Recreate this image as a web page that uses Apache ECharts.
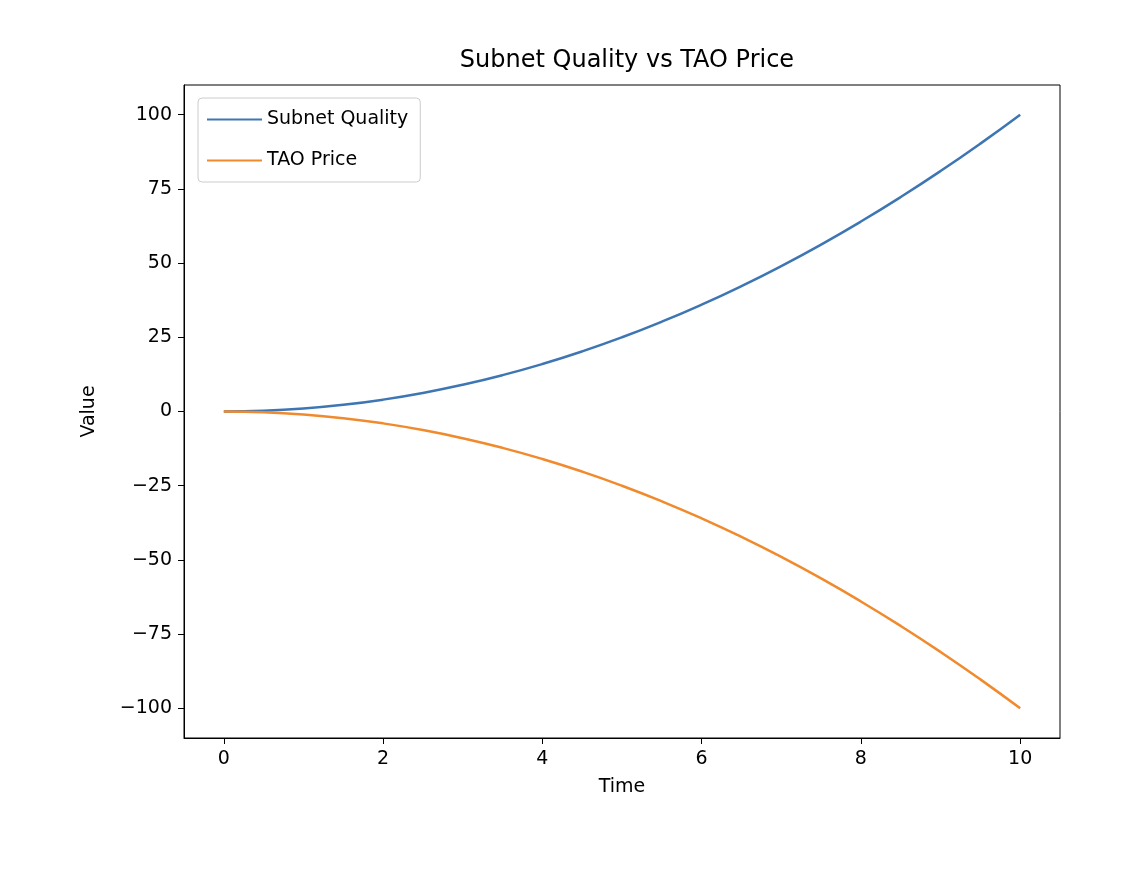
<!DOCTYPE html>
<html>
<head>
<meta charset="utf-8">
<script src="https://cdn.jsdelivr.net/npm/echarts@6/dist/echarts.min.js"></script>
<style>html,body{margin:0;padding:0;background:#fff}#main{width:1125px;height:870px}</style>
</head>
<body>
<div id="main"></div>
<script>
// values
var times = [0,0.5,1,1.5,2,2.5,3,3.5,4,4.5,5,5.5,6,6.5,7,7.5,8,8.5,9,9.5,10];
var quality = [0,0.25,1,2.25,4,6.25,9,12.25,16,20.25,25,30.25,36,42.25,49,56.25,64,72.25,81,90.25,100];
var price = [0,-0.25,-1,-2.25,-4,-6.25,-9,-12.25,-16,-20.25,-25,-30.25,-36,-42.25,-49,-56.25,-64,-72.25,-81,-90.25,-100];
var xTicks = [0,2,4,6,8,10];
var yTicks = [-100,-75,-50,-25,0,25,50,75,100];

function pairs(xs, ys){
    var out = [];
    for (var i = 0; i < xs.length; i++) out.push([xs[i], ys[i]]);
    return out;
}

var chart = echarts.init(document.getElementById('main'));
var font = 'DejaVu Sans';
var option = {
    animation: false,
    textStyle: {fontFamily: font},
    title: {
        text: 'Subnet Quality vs TAO Price',
        left: 622, top: 44, textAlign: 'center',
        textStyle: {fontSize: 24, fontWeight: 'normal', color: '#000', fontFamily: font}
    },
    legend: {
        left: 198, top: 98, orient: 'vertical',
        itemWidth: 55, itemHeight: 2, itemGap: 22,
        padding: [12, 12, 12, 9],
        borderColor: '#ccc', borderWidth: 1, borderRadius: 4,
        textStyle: {fontSize: 19, color: '#000', fontFamily: font},
        icon: 'rect',
        data: ['Subnet Quality', 'TAO Price']
    },
    grid: {left: 184, right: 65, top: 85, bottom: 132},
    xAxis: {
        type: 'value', min: -0.5, max: 10.5,
        name: 'Time', nameLocation: 'middle', nameGap: 40,
        nameTextStyle: {fontSize: 19, color: '#000'},
        splitLine: {show: false},
        axisLine: {show: true, onZero: false, lineStyle: {color: '#000'}},
        axisTick: {show: true, length: 6, customValues: xTicks, lineStyle: {color: '#000'}},
        axisLabel: {fontSize: 19, color: '#000', margin: 12, customValues: xTicks}
    },
    yAxis: {
        type: 'value', min: -110, max: 110,
        name: 'Value', nameLocation: 'middle', nameGap: 85, nameRotate: 90,
        nameTextStyle: {fontSize: 19, color: '#000'},
        splitLine: {show: false},
        axisLine: {show: true, onZero: false, lineStyle: {color: '#000'}},
        axisTick: {show: true, length: 6, customValues: yTicks, lineStyle: {color: '#000'}},
        axisLabel: {fontSize: 19, color: '#000', margin: 12, customValues: yTicks,
            formatter: function (v) { return v < 0 ? '\u2212' + (-v) : String(v); }}
    },
    series: [
        {name: 'Subnet Quality', type: 'line', data: pairs(times, quality), smooth: true,
         showSymbol: false, color: '#3d76b3', lineStyle: {width: 2.5, color: '#3d76b3'}},
        {name: 'TAO Price', type: 'line', data: pairs(times, price), smooth: true,
         showSymbol: false, color: '#f08a2c', lineStyle: {width: 2.5, color: '#f08a2c'}}
    ]
};
chart.setOption(option);
// box frame on top/right
var p0 = chart.convertToPixel({gridIndex: 0}, [-0.5, 110]);
var p1 = chart.convertToPixel({gridIndex: 0}, [10.5, -110]);
chart.setOption({graphic: [{type: 'rect', silent: true,
    shape: {x: p0[0], y: p0[1], width: p1[0] - p0[0], height: p1[1] - p0[1]},
    style: {fill: null, stroke: '#000', lineWidth: 1}}]});
</script>
</body>
</html>
